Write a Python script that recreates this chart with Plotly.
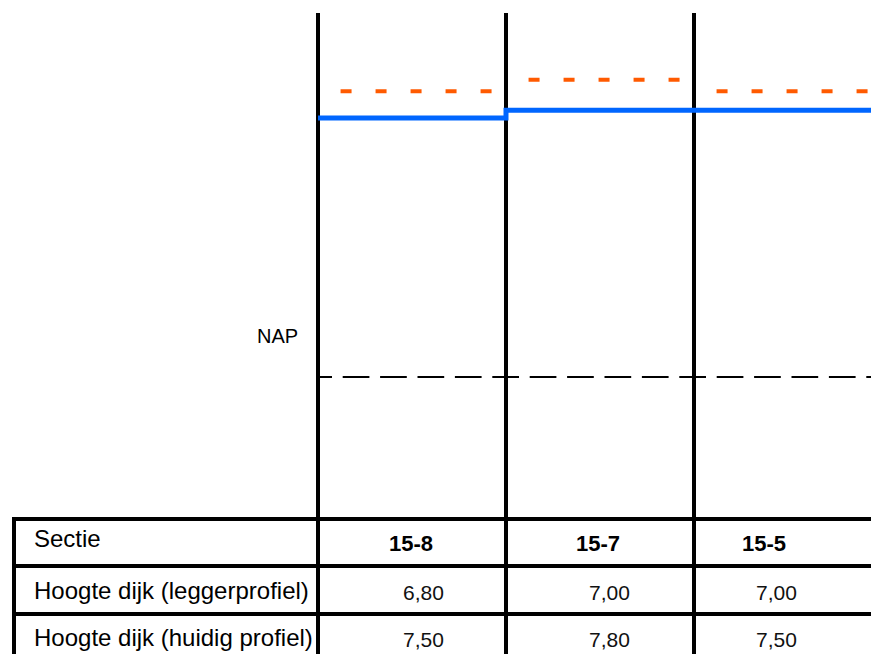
import plotly.graph_objects as go

# ---------------- data ----------------
sections = ["15-8", "15-7", "15-5"]
hoogte_legger = [6.80, 7.00, 7.00]    # blue solid line
hoogte_huidig = [7.50, 7.80, 7.50]    # orange dashed line
nap_level = 0.0
row_labels = ["Sectie", "Hoogte dijk (leggerprofiel)", "Hoogte dijk (huidig profiel)"]
nap_label = "NAP"

# ---------------- styling / layout ----------------
W, H = 871, 654
X0_PX, SEC_PX = 318, 188          # pixel of first section boundary, section width
Y0_PX, UNIT_PX = 377, 38.1        # pixel of NAP level, pixels per metre
FONT = "Liberation Sans, Arial, sans-serif"
BLUE = "#0066FF"
ORANGE = "#FF5A00"
ORANGE_START, ORANGE_END = 0.12, 0.925

x_range = [-X0_PX / SEC_PX, (W - X0_PX) / SEC_PX]
y_range = [-(H - Y0_PX) / UNIT_PX, Y0_PX / UNIT_PX]

def px(x):
    return x / W

def py(y):
    return 1 - y / H

fig = go.Figure()

n = len(sections)

# blue: leggerprofiel as a step line
fig.add_trace(go.Scatter(
    x=list(range(n + 1)),
    y=hoogte_legger + [hoogte_legger[-1]],
    mode="lines", line=dict(color=BLUE, width=5, shape="hv"),
    hoverinfo="skip", showlegend=False))

# orange: huidig profiel, one dashed segment per section
for i, v in enumerate(hoogte_huidig):
    fig.add_trace(go.Scatter(
        x=[i + ORANGE_START, i + ORANGE_END], y=[v, v],
        mode="lines", line=dict(color=ORANGE, width=4, dash="11px,24px"),
        hoverinfo="skip", showlegend=False))

# NAP reference line
nap_dash = "14px,10.7px," + ",".join(["26.7px,10.7px"] * 16)
fig.add_trace(go.Scatter(
    x=[0, n], y=[nap_level, nap_level],
    mode="lines", line=dict(color="black", width=2, dash=nap_dash),
    hoverinfo="skip", showlegend=False))

shapes = []
# section boundaries (vertical black lines)
for i in range(n):
    shapes.append(dict(type="line", xref="x", yref="paper", x0=i, x1=i,
                       y0=0, y1=py(13), line=dict(color="black", width=4),
                       layer="below"))
# table lines
for yline in [519, 566, 614]:
    shapes.append(dict(type="line", xref="paper", yref="paper",
                       x0=px(14), x1=1.0, y0=py(yline), y1=py(yline),
                       line=dict(color="black", width=4)))
shapes.append(dict(type="line", xref="paper", yref="paper",
                   x0=px(14), x1=px(14), y0=py(517), y1=0,
                   line=dict(color="black", width=4)))

annotations = []
row_y = [538, 590, 637]
for lab, yy in zip(row_labels, row_y):
    annotations.append(dict(text=lab, xref="paper", yref="paper",
                            x=px(32), y=py(yy), xanchor="left", yanchor="middle",
                            showarrow=False, font=dict(family=FONT, size=24, color="black")))

header_x = [410.5, 597.5, 763.5]
value_x = [423, 609, 776]
for i, s in enumerate(sections):
    annotations.append(dict(text=f"<b>{s}</b>", xref="paper", yref="paper",
                            x=px(header_x[i]), y=py(543), xanchor="center", yanchor="middle",
                            showarrow=False, font=dict(family=FONT, size=22, color="black")))
    for vals, yy in [(hoogte_legger, 592.5), (hoogte_huidig, 639.5)]:
        annotations.append(dict(text=f"{vals[i]:.2f}".replace(".", ","),
                                xref="paper", yref="paper",
                                x=px(value_x[i]), y=py(yy), xanchor="center", yanchor="middle",
                                showarrow=False, font=dict(family=FONT, size=21, color="#111111")))

annotations.append(dict(text=nap_label, xref="paper", yref="paper",
                        x=px(300), y=py(336), xanchor="right", yanchor="middle",
                        showarrow=False, font=dict(family=FONT, size=20, color="black")))

fig.update_layout(
    width=W, height=H,
    margin=dict(l=0, r=0, t=0, b=0),
    paper_bgcolor="white", plot_bgcolor="white",
    xaxis=dict(range=x_range, visible=False, showgrid=False, zeroline=False, fixedrange=True),
    yaxis=dict(range=y_range, visible=False, showgrid=False, zeroline=False, fixedrange=True),
    shapes=shapes, annotations=annotations,
    showlegend=False,
)

fig.write_html(
    "out.html",
    config={"displayModeBar": False},
    post_script="document.body.style.margin='0';document.body.style.overflow='hidden';",
)
